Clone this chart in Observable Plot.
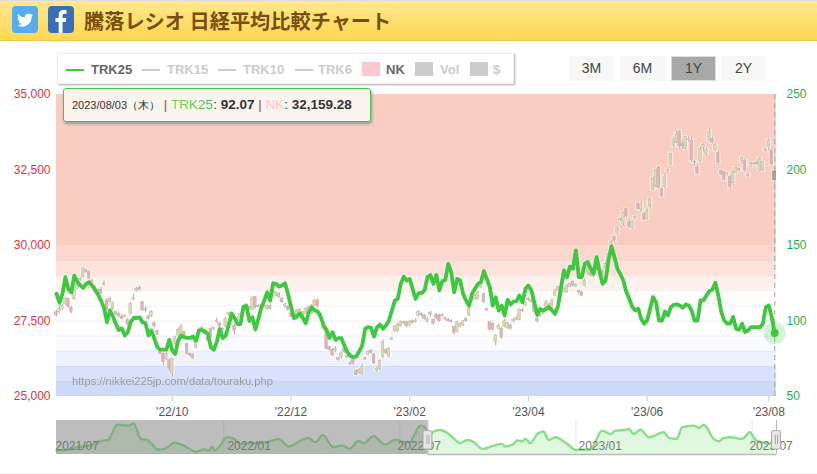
<!DOCTYPE html>
<html lang="ja"><head><meta charset="utf-8">
<script src="https://cdn.jsdelivr.net/npm/d3@7"></script>
<script src="https://cdn.jsdelivr.net/npm/@observablehq/plot@0.6"></script>
<style>
html,body{margin:0;padding:0;background:#fff;overflow:hidden}
body{width:817px;height:474px;position:relative;font-family:"Liberation Sans",Arial,sans-serif}
.abs{position:absolute}
#hdr{left:0;top:0;width:817px;height:39px;border-top:1px solid #ddd;background:linear-gradient(#ffe78f,#ffd84f);border-bottom:1px solid #eec84a;box-sizing:content-box}
#ttl{left:84px;top:7px;font:bold 20.2px "Noto Sans CJK JP",sans-serif;color:#7a4d0c;line-height:28px;white-space:nowrap}
#lg{left:57px;top:53px;width:455px;height:29px;background:#fff;border:1px solid #eee;box-shadow:1px 1px 2px #aaa}
.li{position:absolute;top:63px;font-weight:bold;font-size:13px;line-height:14px;white-space:nowrap}
.ln{position:absolute;top:69px;height:2px;width:18px}
.sw{position:absolute;top:62px;height:14px;width:18px}
.bt{position:absolute;top:56px;width:45px;height:25px;line-height:24px;background:#f7f7f7;color:#444;text-align:center;font-size:14px;box-sizing:border-box}
#tip{left:63px;top:88px;width:298px;height:32px;background:rgba(250,245,240,.97);border:1px solid #4fc04f;border-radius:3px;box-shadow:1px 2px 3px #999;line-height:32px;white-space:nowrap;font-size:13.500px;color:#333;padding-left:8px;box-sizing:content-box}
#wm{left:72px;top:375px;font-size:11.2px;color:#909090;opacity:.85;line-height:13px;white-space:nowrap}
#foot{left:0;top:473px;width:817px;height:1px;background:#eee}
svg{display:block}
</style></head><body>
<div id="hdr" class="abs"></div>
<svg class="abs" style="left:12px;top:6px" width="26" height="27" viewBox="0 0 26 27"><rect width="26" height="27" rx="4" fill="#55acee"/><path d="M21 9c-.6.3-1.200.4-1.900.5.700-.4 1.200-1 1.400-1.800-.6.4-1.300.6-2.100.8a3.300 3.300 0 0 0-5.600 3c-2.700-.1-5.100-1.400-6.700-3.400-.9 1.500-.4 3.400 1 4.400-.5 0-1-.2-1.500-.4 0 1.600 1.100 2.900 2.600 3.200-.5.100-1 .2-1.500.1.400 1.300 1.600 2.200 3.100 2.300A6.600 6.600 0 0 1 5 19.100 9.400 9.400 0 0 0 19.500 11c.6-.5 1.100-1.200 1.500-2z" fill="#fff"/></svg>
<svg class="abs" style="left:48px;top:6px" width="26" height="27" viewBox="0 0 26 27"><rect width="26" height="27" rx="4" fill="#3a6fb7"/><path d="M14.500 27V16h3.300l.5-4h-3.800V9.600c0-1.100.4-1.900 2-1.900h2V4.200c-.4 0-1.600-.2-2.900-.2-2.900 0-4.900 1.800-4.900 5V12H7.500v4h3.200v11z" fill="#fff"/></svg>
<div id="ttl" class="abs">騰落レシオ 日経平均比較チャート</div>
<div id="lg" class="abs"></div>
<div id="legendItems"></div>
<div id="btns"></div>
<div id="main" class="abs" style="left:0;top:85px"></div>
<div id="mini" class="abs" style="left:0;top:420px"></div>
<div id="wm" class="abs">https://nikkei225jp.com/data/touraku.php</div>
<div id="tip" class="abs"><span style="font-size:11px">2023/08/03（木）</span> <span style="color:#8a5a20">|</span> <span style="background:linear-gradient(90deg,#8fd13f,#35c24a);-webkit-background-clip:text;background-clip:text;color:transparent">TRK25</span>: <b>92.07</b> <span style="color:#8a5a20">|</span> <span style="color:#f9c6d0">NK</span>: <b>32,159.28</b></div>
<div id="foot" class="abs"></div>
<script>
const trk25 = [118,112,118,129,121,119,130,126,123.5,122,124.6,125.7,123.5,120.6,117.5,113.5,108.7,99.2,107,103,98,94,95,90.4,92.6,99.2,102,102,102.5,99.2,98.5,90.4,93.7,88,82.6,81,81,81,87.5,80.4,78.2,87,90.4,89.3,88.8,88.8,89.7,87,93.7,94,93,91.5,82.6,81,86,94.8,88.6,90.4,97,105,102,98,98,109.6,110,100,102.5,94.3,101.4,108.7,113.5,119,113.5,125,124.6,122.8,123.5,125,118,109.6,101.9,103,105,
102,98.5,105.8,109,107,106.3,103,97,94,88.8,92.6,87.5,88.6,88.6,83.7,79.3,77,76,76.5,80,83.7,94.8,95.9,95.4,89.7,95.9,97.6,94.8,97,100.3,107,113.5,114.6,124.6,129.4,126.8,127.9,121.3,114.6,118.4,118.6,120.2,129,130.5,124.6,130.5,120.2,126.3,127.2,137.8,132.3,119,127.9,126.8,118,113.5,110.2,118,121.3,124.6,125.7,133,127.9,122.4,110.2,115.7,106.9,110.2,103.6,114,110.9,112.9,113.1,116.9,112.4,121.3,123.5,120.2,112.4,104,108,106.9,108,109.1,106.9,104.7,110,
122.4,133.5,129,136,134.6,146.7,129,129,137.9,139,134.6,131.3,142.3,132.4,124.6,126.8,140.1,149.4,142.3,134.6,130.8,126.8,119.1,114.7,109.2,107,108.1,101.5,98.2,100.3,108.1,115.8,112.5,100.3,100.3,106.3,103.7,109.2,110.7,111,110.3,108.7,111,110.3,107,100.3,100.3,113.6,113.6,116.9,119.8,120.7,125.3,116.9,105.9,100.3,98.2,98.2,102.6,94.8,94.2,98.2,92.6,93.7,95.9,95.9,95.9,95.9,98.2,109.2,110.3,102.6,92.07];

const candleOpen = [27790,27790,27900,28050,28230,27940,28230,28560,28840,28950,29190,29120,28680,28620,28430,28530,28700,28180,28120,27900,27790,27740,27650,27630,27540,27740,28210,28480,28600,28120,27890,27650,27650,27430,27160,26520,26410,26250,26210,25750,26740,27020,27080,27130,26740,26410,26390,26610,27150,27260,27180,26960,27240,27220,27470,27430,27240,27300,27710,27600,27350,27540,27630,27740,27930,27960,27870,28290,28000,27980,27960,27900,28010,28430,28340,28400,28230,27980,27980,27740,27600,27680,27740,27600,27740,27790,27740,28010,28180,27740,27350,27240,26630,26540,26520,26270,26300,26580,26340,26060,26300,25840,25770,25750,26220,26380,26520,26390,25860,25920,26300,26550,26320,26880,27160,27160,27320,27460,27460,27350,27490,27470,27680,27740,27680,27460,27760,27540,27710,27680,27660,27590,27540,27510,27300,27130,27300,27350,27570,27680,28180,28210,28230,28620,28400,27890,27460,27410,26800,27240,27240,27300,27270,27350,27490,27540,27540,27870,28010,28230,28200,28120,27570,27660,27740,27900,28050,27930,28340,28510,28400,28450,28450,28620,28790,28650,28500,28450,28670,29060,29110,28950,29230,29360,29170,29230,29500,29910,30280,30420,30830,30720,31210,30770,30580,30890,31380,31160,31050,30880,31290,31850,31950,32590,31880,31930,32460,32670,33290,33390,33770,33390,33200,33490,33480,32780,32590,32790,33220,33040,33480,33530,33150,33070,32480,32430,32350,32280,32060,32400,32530,32790,32810,32340,32680,32680,32730,32480,32480,33120,33260,33150,32450];
const candleClose = [27680,27900,28010,28230,27960,27810,28530,28680,28900,29230,29120,28900,28840,28530,28510,28400,28740,27870,28230,28090,27710,27650,27570,27670,27380,28070,28250,28560,28530,27850,27850,27570,27790,27320,27050,26410,26140,26410,25920,26250,26960,27210,27300,27020,26410,26360,26250,26800,27210,27220,27070,26850,26960,27260,27510,27320,27180,27570,27760,27510,27180,27590,27740,27850,28050,27890,28250,27930,27960,28020,28010,28010,27900,28480,28450,28290,28120,28050,27850,27650,27680,27850,27870,27790,27900,27960,28010,28180,27980,27650,27240,26580,26540,26360,26580,26210,26430,26470,26300,26100,26080,25720,25880,25990,26270,26470,26440,26100,25910,26170,26800,26430,26580,26920,27320,27380,27460,27420,27320,27480,27430,27510,27790,27690,27570,27570,27710,27410,27600,27490,27700,27550,27490,27470,27100,27460,27410,27490,27490,27920,28230,28340,28450,28660,28120,27850,27210,27210,27020,27350,26940,27510,27430,27240,27540,27590,27870,27830,28120,28190,28130,27790,27490,27700,27850,28120,27960,28180,28510,28620,28290,28560,28670,28730,28670,28700,28450,28340,28840,29230,29000,29280,29300,29310,29060,29390,29720,30110,30160,30550,30870,31070,30960,30610,30790,30940,31210,31360,30850,31160,31540,32210,32500,31900,31620,32280,32500,33040,33510,33700,33260,33280,33590,33530,32810,32740,32370,33200,33330,33170,33770,33390,33340,32730,32350,32170,32390,31930,32430,32560,32480,32900,32480,32300,32730,32730,32680,32870,32760,33170,33480,32680,32159.28];
const wickUp = [60,90,40,60,30,50,20,60,50,60,20,40,30,40,70,80,90,60,70,40,30,60,70,40,60,50,150,50,60,30,90,40,50,40,30,20,50,40,30,20,40,60,90,30,40,30,20,30,60,70,80,30,40,40,90,30,40,50,30,40,60,40,30,50,20,30,50,30,40,30,40,30,20,110,30,40,50,30,20,40,70,30,50,30,40,30,40,30,50,20,40,30,30,40,60,30,50,40,40,70,30,40,40,90,40,50,30,40,90,40,80,30,50,40,30,40,50,40,30,40,50,60,50,30,30,40,60,30,40,50,40,30,50,40,30,40,30,30,40,50,30,40,40,60,30,40,30,40,30,50,60,40,30,30,40,60,30,50,30,50,40,30,40,50,40,60,30,50,40,30,30,40,50,30,30,40,30,40,50,60,30,50,40,50,40,70,30,50,30,60,30,50,30,60,30,50,40,100,40,70,30,60,40,30,60,100,40,30,50,100,40,100,30,60,100,30,70,50,40,60,90,70,50,40,30,40,30,50,60,30,60,40,60,50,40,30,90,50,30,60,60,50,70,40,50,30,20,50,50];
const wickDown = [50,40,60,30,40,70,50,30,40,30,40,30,60,50,40,30,40,60,30,60,40,40,40,40,60,50,40,30,40,30,60,40,30,40,30,30,120,60,80,100,50,40,30,60,40,60,20,40,30,40,50,40,60,50,40,30,40,30,50,40,160,30,40,30,30,40,30,40,30,50,30,40,40,40,30,40,40,50,30,40,30,60,40,50,30,40,30,40,50,30,40,30,30,40,70,40,60,40,40,30,50,40,30,50,30,30,40,40,60,70,50,40,30,30,30,40,30,40,50,30,40,30,30,60,40,30,90,50,60,40,30,40,30,50,60,30,40,30,40,30,40,30,50,50,30,40,30,40,120,30,40,30,40,30,60,30,30,50,30,40,40,50,60,30,40,30,50,40,30,30,40,50,40,30,60,50,90,40,30,40,50,30,60,40,60,30,40,30,50,40,30,60,50,30,60,40,30,70,30,40,90,40,50,30,40,50,60,30,60,30,70,100,40,60,30,100,30,40,120,80,50,30,40,60,40,30,50,60,70,30,50,90,40,50,100,40,30,60,30,40,110,40,150,30,40,200,30,40,50,30,60];

const bandEdges = [25000,25500,26000,26500,27000,27500,28000,28500,29000,29500,30000,35000];
const bandFills = ["#cfdaf8","#d9e2fb","#eef2ff","#fafaff","#fefeff","#ffffff","#fffdfc","#fef0ec","#fde2db","#fbd8ce","#facdc2"];
const leftTicks = [25000,27500,30000,32500,35000];
const rightTicks = [50,100,150,200,250];
const xTicks = [39,79,119,159,199,240];
const xLabels = ["'22/10","'22/12","'23/02","'23/04","'23/06","'23/08"];

const miniDay = [0,7,14,22,30,35,41,49,52,57,61,65,68,73,80,86,94,100,103,105,107,111,115,120,124,133,142,150,157,165,170,175,180,187,193,198,204,208,214,222,229,235,239,241.5,246,249,251.6,255,259.5,265,273,277.5,282,287.6,295.5,301,303,309,311,314.6,317,320,325,329,332.7,337,345,350.7,360.8,368.7,374.3,377.7,383.3,386.7,390,394.6,400.2,410.4,413.8,419,422.8,430.6,434,437.4,444,447.5,451,455.4,463.3,468.5,472.3,475.7,485.8];
const miniValue = [73,75,83,87,100,103,146,143.5,150,106,103,89,76,78,95,87,70,76,73,83,73,89,111,106,92,94,97,106,84.5,101,109,97,117,83,87,78,100,94,114,90,104,97,97,115.4,143.500,139,115,127.6,131,120,94,103,97,78,87,92,84.5,92,101.4,99.5,106,94,120,127,103,110.7,92,75,76,129.5,120,129.5,131,134,120,132,110.7,124.8,109,106,139,143.5,137,146,106,99.5,109,110.7,106,124.800,103,97,92];
const miniSeps = [113,232,351,470];
const miniLabelDays = [-0.7,115.500,230.400,352.700,468.200];
const miniLabels = ["2021/07","2022/01","2022/07","2023/01","2023/07"];
const selStart = 251;
const selEnd = 486.5;

const legendItems = [
  ["line","#3dc83d",66,"TRK25",91,"#666"],["line","#ccc",142,"TRK15",167,"#ccc"],
  ["line","#ccc",218,"TRK10",243,"#ccc"],["line","#ccc",295,"TRK6",318,"#ccc"],
  ["sw","#ffc7d2",362,"NK",386,"#666"],["sw","#ccc",415,"Vol",440,"#ccc"],["sw","#ccc",470,"$",493,"#ccc"]];
const buttons = [["3M",569,0],["6M",620,0],["1Y",671,1],["2Y",721,0]];

document.getElementById("legendItems").innerHTML = legendItems.map(([k,c,x,t,tx,tc]) =>
  `<div class="${k==="line"?"ln":"sw"}" style="left:${x}px;background:${c}"></div><div class="li" style="left:${tx}px;color:${tc}">${t}</div>`).join("");
document.getElementById("btns").innerHTML = buttons.map(([t,x,s]) =>
  `<div class="bt" style="left:${x}px;${s?"background:#a8a8a8;border:1px solid #ddd;line-height:22px;":""}">${t}</div>`).join("");

const toNk = t => 25000 + (t - 50) * 50;
const FONT = '"Liberation Sans",Arial,sans-serif';
const days = trk25.map((v,i)=>({i,v}));
const candles = candleOpen.map((o,i)=>{
  const c = candleClose[i];
  return {i,o,c,hi:Math.max(o,c)+wickUp[i],lo:Math.min(o,c)-wickDown[i],down:o>c};
});
const bands = bandFills.map((fill,i)=>({a:bandEdges[i],b:bandEdges[i+1],fill}));
const lastDay = days[days.length-1];
const lastCandle = candles[candles.length-1];

const main = Plot.plot({
  width:817,height:335,marginLeft:56,marginRight:41,marginTop:9,marginBottom:24,
  style:{fontFamily:FONT,fontSize:"12px",background:"transparent",overflow:"visible"},
  x:{type:"linear",domain:[0,242.6],axis:null},
  y:{type:"linear",domain:[25000,35000],axis:null},
  marks:[
    Plot.rect(bands,{y1:"a",y2:"b",fill:d=>d.fill}),
    Plot.ruleY(bandEdges.slice(1,10),{stroke:"#8899cc",strokeOpacity:.12}),
    Plot.axisY({ticks:leftTicks,anchor:"left",tickSize:0,tickPadding:6,label:null,color:"#e2333f",tickFormat:d3.format(",")}),
    Plot.axisY({ticks:rightTicks.map(toNk),anchor:"right",tickSize:0,tickPadding:10,label:null,color:"#25b14a",tickFormat:d=>(d-25000)/50+50}),
    Plot.axisX({ticks:xTicks,tickSize:5,tickPadding:6,label:null,stroke:"#c8cfe0",fill:"#555",tickFormat:(d,i)=>xLabels[i]}),
    Plot.ruleX(candles,{x:"i",y1:"lo",y2:"hi",stroke:"#fff",strokeWidth:3,strokeOpacity:.35}),
    Plot.rect(candles,{x1:d=>d.i-.45,x2:d=>d.i+.45,y1:"o",y2:"c",fill:"#fff",stroke:"#fff",strokeWidth:3,strokeOpacity:.5,fillOpacity:.6}),
    Plot.ruleX(candles,{x:"i",y1:"lo",y2:"hi",stroke:"#b9aca6",strokeWidth:1}),
    Plot.rect(candles,{x1:d=>d.i-.45,x2:d=>d.i+.45,y1:d=>d.o,y2:d=>d.c,fill:d=>d.down?"#e9aeb4":"#dadcac",stroke:"#bdb6ae",strokeWidth:.5}),
    Plot.rect([lastCandle],{x1:d=>d.i-.5,x2:d=>d.i+.5,y1:"o",y2:"c",fill:"#b59a9a",stroke:"#a38b8b",strokeWidth:.6}),
    Plot.ruleX([lastDay],{x:"i",stroke:"#aaa",strokeDasharray:"5 4",strokeWidth:1}),
    Plot.line(days,{x:"i",y:d=>toNk(d.v),stroke:"#3ec83f",strokeWidth:3.8,strokeLinejoin:"round",strokeLinecap:"round"}),
    Plot.dot([lastDay],{x:"i",y:d=>toNk(d.v),r:11,fill:"#3ec83f",fillOpacity:.22}),
    Plot.dot([lastDay],{x:"i",y:d=>toNk(d.v),r:4,fill:"#3ec83f"})
  ]
});
document.getElementById("main").append(main);

const mini = miniDay.map((x,i)=>({x,v:miniValue[i]}));
const miniPlot = Plot.plot({
  width:817,height:34,marginLeft:56,marginRight:41,marginTop:0,marginBottom:0,
  style:{fontFamily:FONT,fontSize:"12px",background:"transparent",overflow:"visible"},
  x:{type:"linear",domain:[0,486.500],axis:null},
  y:{type:"linear",domain:[62,158],axis:null},
  marks:[
    Plot.ruleX(miniSeps,{stroke:"#e6e6e6"}),
    Plot.areaY(mini,{x:"x",y1:62,y2:"v",fill:"#7fdc7f",fillOpacity:.24,curve:"monotone-x"}),
    Plot.line(mini,{x:"x",y:"v",stroke:"#8ade8a",strokeWidth:2.4,curve:"monotone-x"}),
    Plot.rect([0],{x1:0,x2:selStart,fill:"#7c7c7c",fillOpacity:.5}),
    Plot.ruleX([selStart,selEnd],{stroke:"#bbb"}),
    Plot.ruleY([62],{x1:selStart,x2:selEnd,stroke:"#bbb",strokeWidth:1.5}),
    Plot.text(miniLabelDays,{x:d=>d,frameAnchor:"middle",dy:9,textAnchor:"start",text:(d,i)=>miniLabels[i],fill:"#777"}),
    Plot.rect([selStart,selEnd],{x1:d=>d-3,x2:d=>d+3,y1:76,y2:128,fill:"#e9e6e6",stroke:"#aaa",rx:1.500}),
    Plot.ruleX([selStart-.7,selStart+.7,selEnd-.7,selEnd+.7],{y1:90,y2:116,stroke:"#aaa"})
  ]
});
document.getElementById("mini").append(miniPlot);
</script>
</body></html>
